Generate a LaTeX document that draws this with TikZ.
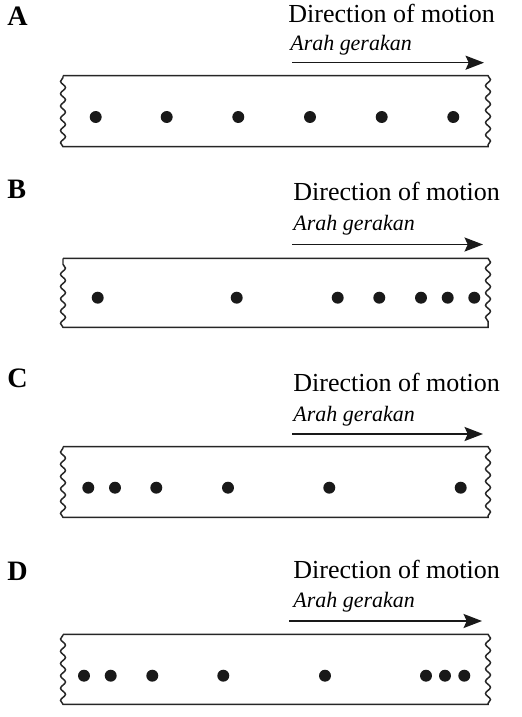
\documentclass[tikz,border=0pt]{standalone}
\usepackage{fontspec}
\setmainfont{Liberation Serif}
\usepackage{tikz}
\usetikzlibrary{arrows.meta, decorations.pathmorphing}
\tikzstyle{tape} = [line width=0.85pt, draw=black!85]
\tikzstyle{wavy} = [decoration={snake, amplitude=1.4pt, segment length=7pt}]
\tikzstyle{dot} = [circle, fill=black!90, inner sep=0pt, minimum size=6.8pt]
\tikzstyle{panel} = [font=\fontsize{16}{19}\selectfont\bfseries, anchor=base west, inner sep=0pt]
\tikzstyle{english} = [font=\fontsize{14.8}{18}\selectfont, anchor=base west, inner sep=0pt]
\tikzstyle{malay} = [font=\fontsize{12.5}{15}\selectfont\itshape, anchor=base west, inner sep=0pt]
\tikzstyle{arrow} = [line width=0.85pt, draw=black!90, -{Stealth[length=10.5pt,width=8pt,inset=1.8pt]}]

\begin{document}
\begin{tikzpicture}[x=0.02cm, y=-0.02cm]
\useasboundingbox (0,0) rectangle (521,717);

% A
\node (labA) [panel] at (7,25) {A};
\node (engA) [english] at (288,22.7) {Direction of motion};
\node (mlyA) [malay] at (290,50.5) {Arah gerakan};
\coordinate (startA) at (292,62.7);
\coordinate (endA) at (484,62.7);
\draw [arrow] (startA) -- (endA);
\draw [tape] (63,75.7) -- (488,75.7) decorate[wavy] {-- (488,146.7)} -- (63,146.7) decorate[wavy] {-- (63,75.7)};
\node (a1) [dot] at (95.7,117) {};
\node (a2) [dot] at (166.7,117) {};
\node (a3) [dot] at (238.3,117) {};
\node (a4) [dot] at (310,117) {};
\node (a5) [dot] at (381.7,117) {};
\node (a6) [dot] at (453.3,117) {};

% B
\node (labB) [panel] at (7,198) {B};
\node (engB) [english] at (293,200) {Direction of motion};
\node (mlyB) [malay] at (293,230) {Arah gerakan};
\coordinate (startB) at (292,244.5);
\coordinate (endB) at (483,244.5);
\draw [arrow] (startB) -- (endB);
\draw [tape] (63,258.3) -- (488,258.3) decorate[wavy] {-- (488,327.3)} -- (63,327.3) decorate[wavy] {-- (63,258.3)};
\node (b1) [dot] at (97.7,297.7) {};
\node (b2) [dot] at (236.7,297.7) {};
\node (b3) [dot] at (337.7,297.7) {};
\node (b4) [dot] at (379.3,297.7) {};
\node (b5) [dot] at (421,297.7) {};
\node (b6) [dot] at (447.7,297.7) {};
\node (b7) [dot] at (474.3,297.7) {};

% C
\node (labC) [panel] at (7,387) {C};
\node (engC) [english] at (293,391.7) {Direction of motion};
\node (mlyC) [malay] at (293,421.7) {Arah gerakan};
\coordinate (startC) at (292,434);
\coordinate (endC) at (483,434);
\draw [arrow] (startC) -- (endC);
\draw [tape] (63,446.7) -- (488,446.7) decorate[wavy] {-- (488,517.3)} -- (63,517.3) decorate[wavy] {-- (63,446.7)};
\node (c1) [dot] at (88.3,487.7) {};
\node (c2) [dot] at (115,487.7) {};
\node (c3) [dot] at (156.3,487.7) {};
\node (c4) [dot] at (228,487.7) {};
\node (c5) [dot] at (329.3,487.7) {};
\node (c6) [dot] at (460.7,487.7) {};

% D
\node (labD) [panel] at (7,580) {D};
\node (engD) [english] at (293,578) {Direction of motion};
\node (mlyD) [malay] at (293,607) {Arah gerakan};
\coordinate (startD) at (289,621);
\coordinate (endD) at (482,621);
\draw [arrow] (startD) -- (endD);
\draw [tape] (63,634.3) -- (488,634.3) decorate[wavy] {-- (488,704.3)} -- (63,704.3) decorate[wavy] {-- (63,634.3)};
\node (d1) [dot] at (84,675.7) {};
\node (d2) [dot] at (110.7,675.7) {};
\node (d3) [dot] at (152.3,675.7) {};
\node (d4) [dot] at (223.3,675.7) {};
\node (d5) [dot] at (325,675.7) {};
\node (d6) [dot] at (426,675.7) {};
\node (d7) [dot] at (445,675.7) {};
\node (d8) [dot] at (464.3,675.7) {};

\end{tikzpicture}
\end{document}
